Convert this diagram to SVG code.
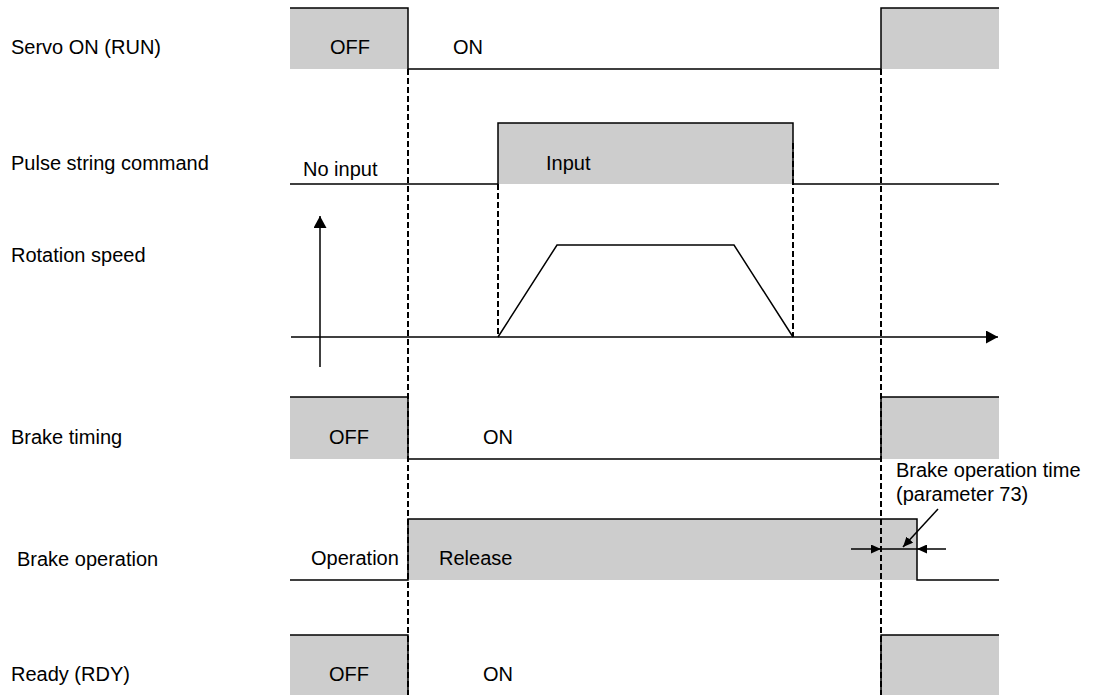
<svg xmlns="http://www.w3.org/2000/svg" width="1093" height="695" viewBox="0 0 1093 695">
<style>
text{font-family:"Liberation Sans",Arial,sans-serif;font-size:20px;fill:#000}
.sh{fill:#cdcdcd;stroke:none}
.ln{fill:none;stroke:#000;stroke-width:1.5}
.dash{fill:none;stroke:#000;stroke-width:2;stroke-dasharray:6,3}
</style>
<defs>
<marker id="ah" viewBox="0 0 12 13" refX="12" refY="6.5" markerWidth="12" markerHeight="13" markerUnits="userSpaceOnUse" orient="auto"><path d="M0,0 L12,6.5 L0,13 Z" fill="#000"/></marker>
<marker id="sa" viewBox="0 0 10 9" refX="10" refY="4.5" markerWidth="10" markerHeight="9" markerUnits="userSpaceOnUse" orient="auto"><path d="M0,0 L10,4.5 L0,9 Z" fill="#000"/></marker>
</defs>
<rect width="1093" height="695" fill="#fff"/>

<g id="labels">
<text x="11" y="54">Servo ON (RUN)</text>
<text x="11" y="170">Pulse string command</text>
<text x="11" y="262">Rotation speed</text>
<text x="11" y="444">Brake timing</text>
<text x="17" y="566">Brake operation</text>
<text x="11" y="681">Ready (RDY)</text>
</g>

<g id="servo">
<rect class="sh" x="290" y="8" width="118" height="61"/>
<rect class="sh" x="881" y="8" width="118" height="61"/>
<path class="ln" d="M290,8 H408 V69 H881 V8 H999"/>
<text x="330" y="54">OFF</text>
<text x="453" y="54">ON</text>
</g>

<g id="pulse">
<rect class="sh" x="498" y="123" width="295" height="61"/>
<path class="ln" d="M290,184 H498 V123 H793 V184 H999"/>
<text x="303" y="176">No input</text>
<text x="546" y="170">Input</text>
</g>

<g id="speed">
<path class="ln" d="M498,337 L557,245 H734 L793,337"/>
</g>

<g id="brake-timing">
<rect class="sh" x="290" y="397" width="118" height="62"/>
<rect class="sh" x="881" y="397" width="118" height="62"/>
<path class="ln" d="M290,397 H408 V459 H881 V397 H999"/>
<text x="329" y="444">OFF</text>
<text x="483" y="444">ON</text>
</g>

<g id="brake-operation">
<rect class="sh" x="408" y="519" width="509" height="61"/>
<path class="ln" d="M290,580 H408 V519 H917 V580 H999"/>
<text x="311" y="565">Operation</text>
<text x="439" y="565">Release</text>
<text x="896" y="477">Brake operation time</text>
<text x="896" y="501">(parameter 73)</text>
</g>

<g id="ready">
<rect class="sh" x="290" y="635" width="118" height="60"/>
<rect class="sh" x="881" y="635" width="118" height="60"/>
<path class="ln" d="M290,635 H408 V695 M881,695 V635 H999"/>
<text x="329" y="681">OFF</text>
<text x="483" y="681">ON</text>
</g>

<g id="connectors">
<line class="ln" x1="291" y1="337" x2="998" y2="337" marker-end="url(#ah)"/>
<line class="ln" x1="320" y1="367" x2="320" y2="216" marker-end="url(#ah)"/>
<line class="dash" x1="408" y1="69" x2="408" y2="695"/>
<line class="dash" x1="881" y1="69" x2="881" y2="695"/>
<line class="dash" x1="498" y1="184" x2="498" y2="337"/>
<line class="dash" x1="793" y1="143" x2="793" y2="337"/>
<line class="ln" x1="881" y1="549" x2="917" y2="549"/>
<line class="ln" x1="851" y1="549" x2="881" y2="549" marker-end="url(#sa)"/>
<line class="ln" x1="946" y1="549" x2="917" y2="549" marker-end="url(#sa)"/>
<line class="ln" x1="938" y1="509" x2="903" y2="547" marker-end="url(#sa)"/>
</g>
</svg>
